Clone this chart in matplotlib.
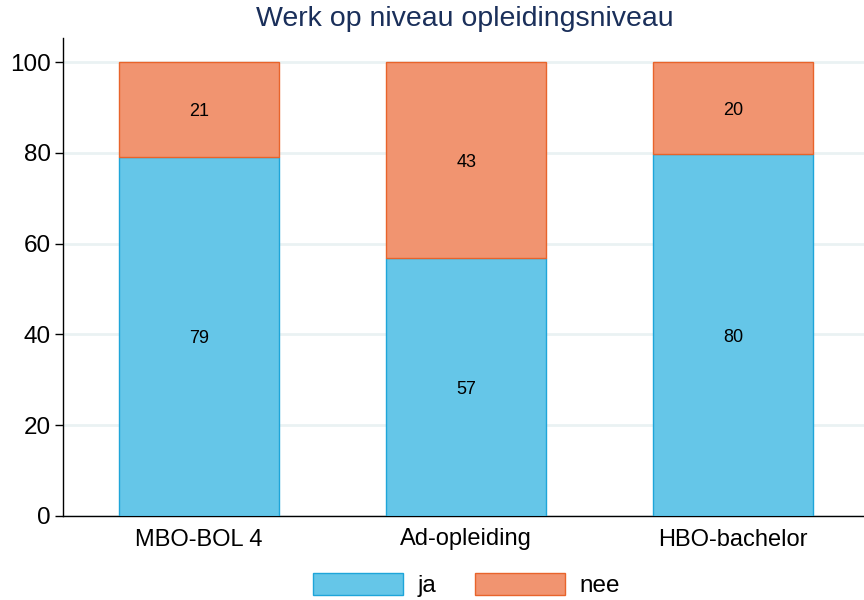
import matplotlib
matplotlib.use("Agg")
import matplotlib.pyplot as plt
from matplotlib.patches import Patch

categories = ["MBO-BOL 4", "Ad-opleiding", "HBO-bachelor"]
ja = [79.1, 56.8, 79.7]
nee = [20.9, 43.2, 20.3]
ja_labels = ["79", "57", "80"]
nee_labels = ["21", "43", "20"]
yticks = [0, 20, 40, 60, 80, 100]

plt.rcParams['font.family'] = ['Liberation Sans', 'DejaVu Sans']

ja_fill, ja_edge = "#65C6E8", "#1EA5D9"
nee_fill, nee_edge = "#F19470", "#E8642B"

fig = plt.figure(figsize=(8.64, 6.0), dpi=100)
ax = fig.add_axes([63/864, 1-516/600, 1-63/864, (516-38)/600])

x = list(range(len(categories)))
ax.bar(x, ja, width=0.6, color=ja_fill, edgecolor=ja_edge, linewidth=1.0, zorder=3)
ax.bar(x, nee, width=0.6, bottom=ja, color=nee_fill, edgecolor=nee_edge, linewidth=1.0, zorder=3)

for i in x:
    ax.text(i, ja[i]/2, ja_labels[i], ha='center', va='center_baseline', fontsize=13, color='black', zorder=4)
    ax.text(i, ja[i] + nee[i]/2, nee_labels[i], ha='center', va='center_baseline', fontsize=13, color='black', zorder=4)

ax.set_xlim(-0.51, 2.49)
ax.set_ylim(0, 105.3)
ax.set_yticks(yticks)
ax.set_yticklabels([str(t) for t in yticks], fontsize=17.5)
ax.set_xticks(x)
ax.set_xticklabels(categories, fontsize=17)
ax.tick_params(axis='x', length=0, pad=9)
ax.tick_params(axis='y', length=6, width=1, pad=3)
ax.grid(axis='y', color='#EAF2F3', linewidth=2, zorder=0)
ax.set_axisbelow(True)
for s in ['top', 'right']:
    ax.spines[s].set_visible(False)
for s in ['left', 'bottom']:
    ax.spines[s].set_color('black')
    ax.spines[s].set_linewidth(1)

fig.suptitle("Werk op niveau opleidingsniveau", x=0.538, y=0.99, va='top', fontsize=20.5, color='#1A2F5A')

handles = [Patch(facecolor=ja_fill, edgecolor=ja_edge, label='ja'),
           Patch(facecolor=nee_fill, edgecolor=nee_edge, label='nee')]
fig.legend(handles=handles, loc='center', bbox_to_anchor=(0.54, 1-585/600), ncol=2,
           frameon=False, fontsize=17.5, handlelength=3.7, handleheight=1.05,
           columnspacing=1.6, handletextpad=0.6)

fig.savefig("out.png", dpi=100)
